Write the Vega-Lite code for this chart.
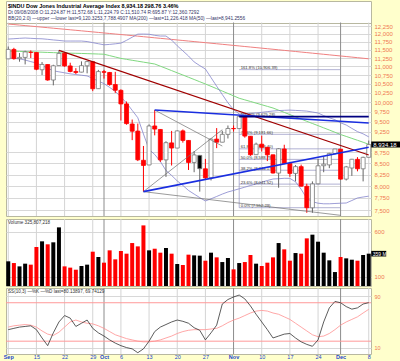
{
"$schema":"https://vega.github.io/schema/vega-lite/v6.json",
"background":"#ffffcc",
"padding":{"left":2,"top":0,"right":0,"bottom":0},
"spacing":0,
"config":{"view":{"stroke":"#b8b8a0","fill":"#ffffff"},"font":"Liberation Sans","text":{"font":"Liberation Sans"}},
"data":{"name":"p"},
"datasets":{
"p":[
{"d":"2008-09-08","o":11224,"h":11600,"l":11224,"c":11510.74,"v":274,"vc":"u","k":38,"dd":42,"bu":11833,"bl":11250,"m50":11461,"m200":12315},
{"d":"2008-09-09","o":11510,"h":11560,"l":11200,"c":11230.73,"v":255,"vc":"d","k":40,"dd":44,"bu":11843,"bl":11238,"m50":11455,"m200":12298},
{"d":"2008-09-10","o":11231,"h":11400,"l":11140,"c":11268.92,"v":218,"vc":"u","k":42,"dd":45,"bu":11855,"bl":11226,"m50":11449,"m200":12281},
{"d":"2008-09-11","o":11268,"h":11470,"l":11060,"c":11433.71,"v":248,"vc":"u","k":43,"dd":46,"bu":11865,"bl":11190,"m50":11443,"m200":12264},
{"d":"2008-09-12","o":11420,"h":11480,"l":11250,"c":11421.99,"v":237,"vc":"d","k":44,"dd":45,"bu":11855,"bl":11142,"m50":11437,"m200":12247},
{"d":"2008-09-15","o":11416,"h":11420,"l":10890,"c":10917.51,"v":433,"vc":"d","k":38,"dd":42,"bu":11846,"bl":11101,"m50":11431,"m200":12230},
{"d":"2008-09-16","o":10904,"h":11130,"l":10750,"c":11059.02,"v":496,"vc":"u","k":25,"dd":36,"bu":11840,"bl":11025,"m50":11425,"m200":12213},
{"d":"2008-09-17","o":11057,"h":11060,"l":10590,"c":10609.66,"v":463,"vc":"d","k":13,"dd":31,"bu":11824,"bl":10949,"m50":11418,"m200":12196},
{"d":"2008-09-18","o":10610,"h":11050,"l":10460,"c":11019.69,"v":485,"vc":"u","k":33,"dd":29,"bu":11805,"bl":10873,"m50":11412,"m200":12179},
{"d":"2008-09-19","o":11025,"h":11482,"l":11020,"c":11388.44,"v":651,"vc":"u","k":50,"dd":34,"bu":11789,"bl":10844,"m50":11406,"m200":12162},
{"d":"2008-09-22","o":11394,"h":11400,"l":10990,"c":11015.69,"v":218,"vc":"d","k":60,"dd":42,"bu":11770,"bl":10815,"m50":11401,"m200":12145},
{"d":"2008-09-23","o":11015,"h":11110,"l":10830,"c":10854.17,"v":204,"vc":"d","k":56,"dd":50,"bu":11770,"bl":10786,"m50":11396,"m200":12128},
{"d":"2008-09-24","o":10854,"h":10950,"l":10780,"c":10825.17,"v":181,"vc":"d","k":43,"dd":53,"bu":11770,"bl":10766,"m50":11392,"m200":12111},
{"d":"2008-09-25","o":10835,"h":11150,"l":10830,"c":11022.06,"v":222,"vc":"u","k":48,"dd":50,"bu":11770,"bl":10746,"m50":11387,"m200":12094},
{"d":"2008-09-26","o":11019,"h":11160,"l":10800,"c":11143.13,"v":237,"vc":"u","k":53,"dd":48,"bu":11754,"bl":10726,"m50":11382,"m200":12077},
{"d":"2008-09-29","o":11139,"h":11150,"l":10300,"c":10365.45,"v":381,"vc":"d","k":40,"dd":47,"bu":11720,"bl":10655,"m50":11376,"m200":12060},
{"d":"2008-09-30","o":10368,"h":10900,"l":10368,"c":10850.66,"v":322,"vc":"u","k":33,"dd":44,"bu":11686,"bl":10579,"m50":11370,"m200":12043},
{"d":"2008-10-01","o":10847,"h":10900,"l":10650,"c":10831.07,"v":259,"vc":"d","k":28,"dd":40,"bu":11652,"bl":10509,"m50":11364,"m200":12026},
{"d":"2008-10-02","o":10825,"h":10840,"l":10450,"c":10482.85,"v":396,"vc":"d","k":22,"dd":35,"bu":11665,"bl":10403,"m50":11322,"m200":12009},
{"d":"2008-10-03","o":10483,"h":10844,"l":10250,"c":10325.38,"v":296,"vc":"d","k":17,"dd":30,"bu":11683,"bl":10293,"m50":11280,"m200":11992},
{"d":"2008-10-06","o":10322,"h":10350,"l":9525,"c":9955.50,"v":389,"vc":"d","k":13,"dd":27,"bu":11705,"bl":10140,"m50":11238,"m200":11975},
{"d":"2008-10-07","o":9956,"h":10020,"l":9420,"c":9447.11,"v":359,"vc":"d","k":10,"dd":24,"bu":11792,"bl":9980,"m50":11210,"m200":11958},
{"d":"2008-10-08","o":9437,"h":9550,"l":9040,"c":9258.10,"v":477,"vc":"d","k":8,"dd":22,"bu":11890,"bl":9787,"m50":11182,"m200":11941},
{"d":"2008-10-09","o":9261,"h":9448,"l":8550,"c":8579.19,"v":440,"vc":"d","k":2,"dd":20,"bu":11988,"bl":9597,"m50":11155,"m200":11924},
{"d":"2008-10-10","o":8568,"h":8901,"l":7882,"c":8451.19,"v":673,"vc":"d","k":8,"dd":19,"bu":11991,"bl":9189,"m50":11127,"m200":11907},
{"d":"2008-10-13","o":8462,"h":9427,"l":8462,"c":9387.61,"v":396,"vc":"u","k":20,"dd":19,"bu":11985,"bl":8820,"m50":11100,"m200":11890},
{"d":"2008-10-14","o":9388,"h":9794,"l":9156,"c":9310.99,"v":414,"vc":"d","k":35,"dd":20,"bu":11950,"bl":8702,"m50":11072,"m200":11872},
{"d":"2008-10-15","o":9301,"h":9310,"l":8530,"c":8577.91,"v":370,"vc":"d","k":42,"dd":22,"bu":11928,"bl":8541,"m50":11008,"m200":11855},
{"d":"2008-10-16","o":8577,"h":9014,"l":8197,"c":8979.26,"v":422,"vc":"u","k":46,"dd":25,"bu":11928,"bl":8338,"m50":10944,"m200":11838},
{"d":"2008-10-17","o":8974,"h":9265,"l":8450,"c":8852.22,"v":359,"vc":"d","k":50,"dd":28,"bu":11802,"bl":8230,"m50":10879,"m200":11821},
{"d":"2008-10-20","o":8852,"h":9279,"l":8850,"c":9265.43,"v":244,"vc":"u","k":53,"dd":32,"bu":11621,"bl":8110,"m50":10815,"m200":11804},
{"d":"2008-10-21","o":9266,"h":9300,"l":8980,"c":9033.66,"v":233,"vc":"d","k":51,"dd":35,"bu":11467,"bl":8014,"m50":10752,"m200":11787},
{"d":"2008-10-22","o":9033,"h":9040,"l":8350,"c":8519.21,"v":348,"vc":"d","k":48,"dd":37,"bu":11310,"bl":7907,"m50":10688,"m200":11770},
{"d":"2008-10-23","o":8519,"h":8780,"l":8300,"c":8691.25,"v":340,"vc":"u","k":41,"dd":38,"bu":11133,"bl":7831,"m50":10625,"m200":11753},
{"d":"2008-10-24","o":8680,"h":8691,"l":7882,"c":8378.95,"v":337,"vc":"u","k":37,"dd":38,"bu":11025,"bl":7758,"m50":10561,"m200":11736},
{"d":"2008-10-27","o":8376,"h":8600,"l":8143,"c":8175.77,"v":281,"vc":"d","k":22,"dd":38,"bu":10925,"bl":7688,"m50":10498,"m200":11719},
{"d":"2008-10-28","o":8178,"h":9080,"l":8120,"c":9065.12,"v":370,"vc":"u","k":33,"dd":39,"bu":10678,"bl":7733,"m50":10433,"m200":11702},
{"d":"2008-10-29","o":9065,"h":9335,"l":8850,"c":8990.96,"v":318,"vc":"d","k":45,"dd":40,"bu":10437,"bl":7781,"m50":10368,"m200":11685},
{"d":"2008-10-30","o":8991,"h":9270,"l":8990,"c":9180.69,"v":266,"vc":"u","k":78,"dd":44,"bu":10208,"bl":7831,"m50":10302,"m200":11668},
{"d":"2008-10-31","o":9180,"h":9400,"l":9080,"c":9325.01,"v":311,"vc":"u","k":85,"dd":49,"bu":9985,"bl":7875,"m50":10237,"m200":11651},
{"d":"2008-11-03","o":9326,"h":9400,"l":9250,"c":9319.83,"v":185,"vc":"d","k":89,"dd":53,"bu":9806,"bl":7907,"m50":10172,"m200":11634},
{"d":"2008-11-04","o":9323,"h":9653,"l":9320,"c":9625.28,"v":255,"vc":"u","k":92,"dd":56,"bu":9692,"bl":7942,"m50":10107,"m200":11617},
{"d":"2008-11-05","o":9617,"h":9620,"l":9100,"c":9139.27,"v":266,"vc":"d","k":86,"dd":60,"bu":9702,"bl":7976,"m50":10064,"m200":11600},
{"d":"2008-11-06","o":9135,"h":9140,"l":8670,"c":8695.79,"v":344,"vc":"d","k":75,"dd":64,"bu":9710,"bl":8012,"m50":10021,"m200":11583},
{"d":"2008-11-07","o":8697,"h":8980,"l":8697,"c":8943.81,"v":248,"vc":"u","k":62,"dd":67,"bu":9718,"bl":8046,"m50":9977,"m200":11566},
{"d":"2008-11-10","o":8944,"h":9150,"l":8770,"c":8870.54,"v":222,"vc":"d","k":50,"dd":68,"bu":9735,"bl":8082,"m50":9934,"m200":11549},
{"d":"2008-11-11","o":8870,"h":8875,"l":8550,"c":8693.96,"v":259,"vc":"d","k":38,"dd":67,"bu":9753,"bl":8119,"m50":9891,"m200":11532},
{"d":"2008-11-12","o":8694,"h":8698,"l":8270,"c":8282.66,"v":318,"vc":"d","k":25,"dd":64,"bu":9769,"bl":8152,"m50":9848,"m200":11515},
{"d":"2008-11-13","o":8281,"h":8850,"l":7965,"c":8835.25,"v":477,"vc":"u","k":28,"dd":62,"bu":9780,"bl":8158,"m50":9791,"m200":11498},
{"d":"2008-11-14","o":8830,"h":8930,"l":8480,"c":8497.31,"v":407,"vc":"d","k":31,"dd":58,"bu":9787,"bl":8167,"m50":9734,"m200":11481},
{"d":"2008-11-17","o":8497,"h":8500,"l":8200,"c":8273.58,"v":281,"vc":"d","k":32,"dd":54,"bu":9793,"bl":8165,"m50":9676,"m200":11464},
{"d":"2008-11-18","o":8274,"h":8460,"l":8100,"c":8424.75,"v":366,"vc":"u","k":25,"dd":48,"bu":9785,"bl":8091,"m50":9619,"m200":11447},
{"d":"2008-11-19","o":8424,"h":8470,"l":7990,"c":7997.28,"v":359,"vc":"d","k":19,"dd":42,"bu":9777,"bl":7932,"m50":9562,"m200":11430},
{"d":"2008-11-20","o":7995,"h":8050,"l":7450,"c":7552.29,"v":529,"vc":"d","k":15,"dd":36,"bu":9767,"bl":7742,"m50":9505,"m200":11413},
{"d":"2008-11-21","o":7550,"h":8100,"l":7450,"c":8046.42,"v":570,"vc":"u","k":12,"dd":30,"bu":9743,"bl":7674,"m50":9450,"m200":11396},
{"d":"2008-11-24","o":8048,"h":8600,"l":8040,"c":8443.39,"v":492,"vc":"u","k":22,"dd":27,"bu":9718,"bl":7643,"m50":9396,"m200":11379},
{"d":"2008-11-25","o":8445,"h":8650,"l":8300,"c":8479.47,"v":370,"vc":"u","k":50,"dd":28,"bu":9650,"bl":7631,"m50":9341,"m200":11362},
{"d":"2008-11-26","o":8464,"h":8740,"l":8390,"c":8726.61,"v":285,"vc":"u","k":72,"dd":32,"bu":9594,"bl":7631,"m50":9287,"m200":11345},
{"d":"2008-11-28","o":8726,"h":8830,"l":8700,"c":8829.04,"v":155,"vc":"u","k":82,"dd":38,"bu":9546,"bl":7637,"m50":9232,"m200":11328},
{"d":"2008-12-01","o":8826,"h":8830,"l":8140,"c":8149.09,"v":322,"vc":"d","k":80,"dd":45,"bu":9467,"bl":7643,"m50":9177,"m200":11311},
{"d":"2008-12-02","o":8150,"h":8440,"l":8120,"c":8419.09,"v":307,"vc":"u","k":74,"dd":50,"bu":9412,"bl":7647,"m50":9130,"m200":11294},
{"d":"2008-12-03","o":8394,"h":8600,"l":8220,"c":8591.69,"v":292,"vc":"u","k":70,"dd":54,"bu":9328,"bl":7698,"m50":9083,"m200":11277},
{"d":"2008-12-04","o":8590,"h":8640,"l":8320,"c":8376.24,"v":281,"vc":"d","k":72,"dd":58,"bu":9248,"bl":7750,"m50":9037,"m200":11260},
{"d":"2008-12-05","o":8376,"h":8650,"l":8100,"c":8635.42,"v":344,"vc":"u","k":78,"dd":64,"bu":9193,"bl":7770,"m50":8990,"m200":11243},
{"d":"2008-12-08","o":8637,"h":9030,"l":8637,"c":8934.18,"v":359,"vc":"u","k":80.14,"dd":69.74,"bu":9120,"bl":7788,"m50":8941,"m200":11226}
],
"grid":[
{"d":"2008-09-08","m":0},{"d":"2008-09-15","m":0},{"d":"2008-09-22","m":0},{"d":"2008-09-29","m":0},{"d":"2008-10-01","m":1},{"d":"2008-10-06","m":0},{"d":"2008-10-13","m":0},{"d":"2008-10-20","m":0},{"d":"2008-10-27","m":0},{"d":"2008-11-03","m":1},{"d":"2008-11-10","m":0},{"d":"2008-11-17","m":0},{"d":"2008-11-24","m":0},{"d":"2008-12-01","m":1},{"d":"2008-12-08","m":0}
],
"lines":[
{"id":"dr","d":"2008-09-19","p":11482},{"id":"dr","d":"2008-12-08","p":8690},
{"id":"b1","d":"2008-10-14","p":9794},{"id":"b1","d":"2008-12-08","p":9462},
{"id":"b2","d":"2008-10-10","p":7882},{"id":"b2","d":"2008-12-08","p":8872},
{"id":"nv","d":"2008-11-04","p":9625.28},{"id":"nv","d":"2008-12-08","p":9625.28},
{"id":"g1","d":"2008-10-14","p":9794},{"id":"g1","d":"2008-10-30","p":8899},
{"id":"g2","d":"2008-10-10","p":7882},{"id":"g2","d":"2008-10-30","p":9295},
{"id":"g3","d":"2008-10-10","p":7882},{"id":"g3","d":"2008-12-01","p":7400}
],
"fib":[
{"lab":"161.8% (10,906.39)","p":10906.39,"d1":"2008-11-04","d2":"2008-12-01"},
{"lab":"100.0% (9,625.28)","p":9625.28,"d1":"2008-11-04","d2":"2008-12-01"},
{"lab":"78.6% (9,181.66)","p":9181.66,"d1":"2008-11-04","d2":"2008-12-01"},
{"lab":"61.8% (8,833.40)","p":8833.40,"d1":"2008-11-04","d2":"2008-12-01"},
{"lab":"50.0% (8,588.79)","p":8588.79,"d1":"2008-11-04","d2":"2008-12-01"},
{"lab":"38.2% (8,344.17)","p":8344.17,"d1":"2008-11-04","d2":"2008-12-01"},
{"lab":"23.6% (8,041.52)","p":8041.52,"d1":"2008-11-04","d2":"2008-12-01"},
{"lab":"0.0% (7,552.29)","p":7552.29,"d1":"2008-11-04","d2":"2008-12-01"}
],
"fibv":[{"d":"2008-11-04","lo":7552.29,"hi":9625.28}],
"lastp":[{"d":"2008-12-08","c":8934.18,"t":"8,934.18"}],
"lastv":[{"d":"2008-12-08","v":359,"t":"359 M"}],
"lev":[{"lv":20},{"lv":80}]
},
"vconcat":[
{
"width":365,"height":215,
"title":{"text":"$INDU Dow Jones Industrial Average Index   8,934.18   298.76   3.46%","subtitle":["Dt 09/08/2008 O:11,224.87 H:11,572.68 L:11,224.79 C:11,510.74 R:695.87 Y:12,360.7292","BB(20,2.0) —upper —lower last=9,120.3253,7,788.4907   MA(200) —last=11,226.418   MA(50) —last=8,941.2556"],"anchor":"start","frame":"group","orient":"top","offset":-20,"dx":2,"fontSize":5.5,"fontWeight":"bold","color":"#000000","subtitleFontSize":4.8,"subtitleColor":"#333366","subtitlePadding":1,"subtitleLineHeight":6,"lineHeight":6},
"layer":[
{"data":{"name":"grid"},"mark":{"type":"rule","strokeWidth":1},"encoding":{"x":{"field":"d","type":"ordinal","scale":{"type":"point","padding":0.4},"axis":null},"y":{"datum":7387,"type":"quantitative"},"y2":{"datum":12365},"color":{"condition":{"test":"datum.m==1","value":"#8c8c8c"},"value":"#d4d4d4"}}},
{"mark":{"type":"line","color":"#f08080","strokeWidth":1},"encoding":{"x":{"field":"d","type":"ordinal"},"y":{"field":"m200","type":"quantitative","scale":{"type":"log","domain":[7387,13094],"nice":false,"zero":false},"axis":{"orient":"right","values":[7500,7750,8000,8250,8500,8750,9250,9500,9750,10000,10250,10500,10750,11000,11250,11500,11750,12000,12250,12365],"labelExpr":"datum.value > 12300 ? '' : format(datum.value, ',')","title":null,"tickSize":0,"domainOpacity":0,"grid":true,"gridColor":{"condition":{"test":"datum.value > 12300","value":"#b8b8a0"},"value":"#d8d8d8"},"labelColor":"#f07850","labelFontSize":6,"labelPadding":3,"labelOverlap":false}}}},
{"mark":{"type":"line","color":"#80d880","strokeWidth":1},"encoding":{"x":{"field":"d","type":"ordinal"},"y":{"field":"m50","type":"quantitative"}}},
{"mark":{"type":"line","color":"#8484cc","strokeWidth":0.8},"encoding":{"x":{"field":"d","type":"ordinal"},"y":{"field":"bu","type":"quantitative"}}},
{"mark":{"type":"line","color":"#8484cc","strokeWidth":0.8},"encoding":{"x":{"field":"d","type":"ordinal"},"y":{"field":"bl","type":"quantitative"}}},
{"data":{"name":"fib"},"mark":{"type":"rule","color":"#9090c0","strokeWidth":0.7},"encoding":{"x":{"field":"d1","type":"ordinal"},"x2":{"field":"d2"},"y":{"field":"p","type":"quantitative"}}},
{"data":{"name":"fibv"},"mark":{"type":"rule","color":"#9090c0","strokeWidth":0.7},"encoding":{"x":{"field":"d","type":"ordinal"},"y":{"field":"lo","type":"quantitative"},"y2":{"field":"hi"}}},
{"data":{"name":"fib"},"mark":{"type":"text","align":"left","baseline":"bottom","dx":1.5,"dy":0.5,"fontSize":4.2,"color":"#333333"},"encoding":{"x":{"field":"d1","type":"ordinal"},"y":{"field":"p","type":"quantitative"},"text":{"field":"lab"}}},
{"mark":{"type":"rule","strokeWidth":1},"encoding":{"x":{"field":"d","type":"ordinal"},"y":{"field":"l","type":"quantitative"},"y2":{"field":"h"},"color":{"condition":{"test":"datum.vc=='d'","value":"#ff0000"},"value":"#666666"}}},
{"mark":{"type":"bar","size":4,"strokeWidth":0.8},"encoding":{"x":{"field":"d","type":"ordinal"},"y":{"field":"o","type":"quantitative"},"y2":{"field":"c"},"fill":{"condition":[{"test":"datum.c < datum.o && datum.vc=='d'","value":"#ff0000"},{"test":"datum.c < datum.o","value":"#000000"}],"value":"#ffffff"},"stroke":{"condition":{"test":"datum.vc=='d'","value":"#ff0000"},"value":"#777777"}}},
{"data":{"name":"lines"},"transform":[{"filter":{"field":"id","equal":"dr"}}],"mark":{"type":"line","color":"#a00000","strokeWidth":1.2},"encoding":{"x":{"field":"d","type":"ordinal"},"y":{"field":"p","type":"quantitative"}}},
{"data":{"name":"lines"},"transform":[{"filter":{"field":"id","oneOf":["g1","g2","g3"]}}],"mark":{"type":"line","color":"#707070","strokeWidth":0.7},"encoding":{"x":{"field":"d","type":"ordinal"},"y":{"field":"p","type":"quantitative"},"detail":{"field":"id"}}},
{"data":{"name":"lines"},"transform":[{"filter":{"field":"id","oneOf":["b1","b2"]}}],"mark":{"type":"line","color":"#1a2ee0","strokeWidth":1.6},"encoding":{"x":{"field":"d","type":"ordinal"},"y":{"field":"p","type":"quantitative"},"detail":{"field":"id"}}},
{"data":{"name":"lines"},"transform":[{"filter":{"field":"id","equal":"nv"}}],"mark":{"type":"line","color":"#000080","strokeWidth":1.6},"encoding":{"x":{"field":"d","type":"ordinal"},"y":{"field":"p","type":"quantitative"}}},
{"data":{"name":"lastp"},"mark":{"type":"point","shape":"M0.25,-0.3H3.45V0.3H0.25Z","filled":true,"color":"#000000","size":400,"opacity":1},"encoding":{"x":{"field":"d","type":"ordinal"},"y":{"field":"c","type":"quantitative"}}},
{"data":{"name":"lastp"},"mark":{"type":"text","align":"left","baseline":"middle","dx":4.5,"fontSize":6,"color":"#ffffff"},"encoding":{"x":{"field":"d","type":"ordinal"},"y":{"field":"c","type":"quantitative"},"text":{"field":"t"}}}
]
},
{
"width":365,"height":67,
"title":{"text":"Volume 325,807,218","anchor":"start","frame":"group","orient":"top","offset":-6,"dx":2,"fontSize":4.6,"fontWeight":"normal","color":"#333333"},
"layer":[
{"data":{"name":"grid"},"mark":{"type":"rule","strokeWidth":1},"encoding":{"x":{"field":"d","type":"ordinal","scale":{"type":"point","padding":0.4},"axis":null},"color":{"condition":{"test":"datum.m==1","value":"#8c8c8c"},"value":"#d4d4d4"}}},
{"mark":{"type":"bar","size":4},"encoding":{"x":{"field":"d","type":"ordinal"},"y":{"field":"v","type":"quantitative","scale":{"domain":[0,744],"nice":false},"axis":{"orient":"right","values":[100,200,300,400,500,600],"title":null,"tickSize":0,"domainOpacity":0,"grid":true,"gridColor":"#d8d8d8","labelColor":"#f07850","labelFontSize":6,"labelPadding":3,"labelOverlap":false}},"color":{"condition":{"test":"datum.vc=='d'","value":"#ff0000"},"value":"#000000"}}},
{"data":{"name":"lastv"},"mark":{"type":"point","shape":"M0.25,-0.28H1.75V0.28H0.25Z","filled":true,"color":"#000000","size":400,"opacity":1},"encoding":{"x":{"field":"d","type":"ordinal"},"y":{"field":"v","type":"quantitative"}}},
{"data":{"name":"lastv"},"mark":{"type":"text","align":"left","baseline":"middle","dx":4,"fontSize":5,"color":"#ffffff"},"encoding":{"x":{"field":"d","type":"ordinal"},"y":{"field":"v","type":"quantitative"},"text":{"field":"t"}}}
]
},
{
"width":365,"height":66,
"title":{"text":"SS(10,3) —%K —%D last=80.13897, 69.74129","anchor":"start","frame":"group","orient":"top","offset":-6,"dx":2,"fontSize":4.6,"fontWeight":"normal","color":"#333333"},
"layer":[
{"data":{"name":"grid"},"mark":{"type":"rule","strokeWidth":1},"encoding":{"x":{"field":"d","type":"ordinal","scale":{"type":"point","padding":0.4},"axis":{"values":["2008-09-08","2008-09-15","2008-09-22","2008-09-29","2008-10-01","2008-10-06","2008-10-13","2008-10-20","2008-10-27","2008-11-03","2008-11-10","2008-11-17","2008-11-24","2008-12-01","2008-12-08"],"labelExpr":"datum.value=='2008-09-08'?'Sep':datum.value=='2008-10-01'?'Oct':datum.value=='2008-11-03'?'Nov':datum.value=='2008-12-01'?'Dec':''+toNumber(slice(datum.value,8))","title":null,"tickSize":0,"domainOpacity":0,"grid":false,"labelAngle":0,"labelFontSize":5.5,"labelColor":"#2244cc","labelPadding":0.5,"labelOverlap":false,"labelFontWeight":{"condition":{"test":"indexof(['2008-09-08','2008-10-01','2008-11-03','2008-12-01'], datum.value) >= 0","value":"bold"},"value":"normal"}}},"color":{"condition":{"test":"datum.m==1","value":"#8c8c8c"},"value":"#d4d4d4"}}},
{"data":{"name":"lev"},"mark":{"type":"rule","color":"#ff9999","strokeWidth":1},"encoding":{"y":{"field":"lv","type":"quantitative","scale":{"domain":[0,103],"nice":false},"axis":{"orient":"right","values":[10,20,30,40,50,60,70,80,90],"title":null,"tickSize":0,"domainOpacity":0,"grid":true,"gridColor":"#d8d8d8","labelColor":"#f07850","labelFontSize":5.5,"labelPadding":3,"labelOverlap":false}}}},
{"mark":{"type":"line","color":"#ff9090","strokeWidth":0.8},"encoding":{"x":{"field":"d","type":"ordinal"},"y":{"field":"dd","type":"quantitative"}}},
{"mark":{"type":"line","color":"#333333","strokeWidth":0.8},"encoding":{"x":{"field":"d","type":"ordinal"},"y":{"field":"k","type":"quantitative"}}}
]
}
]
}
